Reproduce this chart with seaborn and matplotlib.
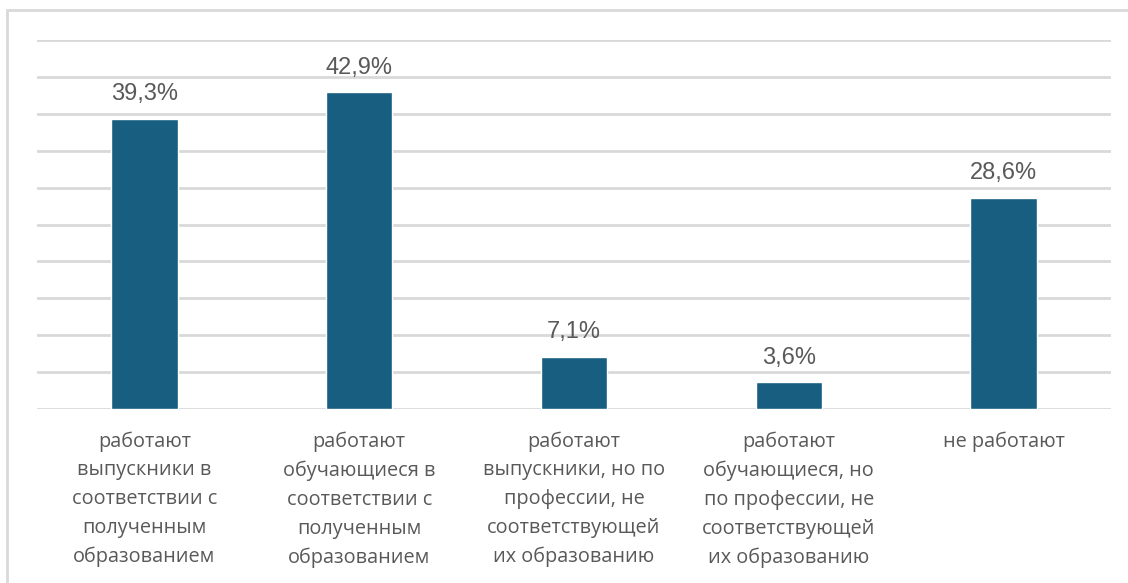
import pandas as pd
import seaborn as sns
import matplotlib.pyplot as plt
from matplotlib.patches import Rectangle

# data
categories = [
    'работают\nвыпускники в\nсоответствии с\nполученным\nобразованием',
    'работают\nобучающиеся в\nсоответствии с\nполученным\nобразованием',
    'работают\nвыпускники, но по\nпрофессии, не\nсоответствующей\nих образованию',
    'работают\nобучающиеся, но\nпо профессии, не\nсоответствующей\nих образованию',
    'не работают',
]
values = [39.3, 42.9, 7.1, 3.6, 28.6]
value_labels = ['39,3%', '42,9%', '7,1%', '3,6%', '28,6%']

df = pd.DataFrame({'cat': categories, 'val': values})

sns.set_style('white')
plt.rcParams['font.family'] = ['Open Sans', 'DejaVu Sans']

fig = plt.figure(figsize=(11.28, 5.83), dpi=100)
ax = fig.add_axes([37 / 1128, 1 - 409 / 583, (1111 - 37) / 1128, (409 - 40) / 583])

sns.barplot(data=df, x='cat', y='val', color='#175E80', width=0.31,
            saturation=1, ax=ax, zorder=3)

ax.set_ylim(0, 50)
ax.set_xlim(-0.5, 4.5)
ax.set_yticks(range(0, 51, 5))
ax.yaxis.grid(True, color='#D9D9D9', linewidth=2)
ax.set_axisbelow(True)
ax.tick_params(axis='y', left=False, labelleft=False)
ax.tick_params(axis='x', length=0, pad=16, colors='#595959')
for lbl in ax.get_xticklabels():
    lbl.set_fontsize(14.3)
    lbl.set_linespacing(1.58)
    lbl.set_color('#595959')
ax.set_xlabel('')
ax.set_ylabel('')
for s in ax.spines.values():
    s.set_visible(False)

for i, (v, t) in enumerate(zip(values, value_labels)):
    ax.annotate(t, (i, v), xytext=(0, 10), textcoords='offset points',
                ha='center', va='bottom', fontsize=17, color='#595959',
                family=['Liberation Sans', 'DejaVu Sans'])

# outer chart border
fig.patches.append(Rectangle((7 / 1128, -0.1), 1.2, 1 - 10 / 583 + 0.1,
                             transform=fig.transFigure, fill=False,
                             edgecolor='#D9D9D9', linewidth=2))

fig.savefig('out.png', dpi=100)
